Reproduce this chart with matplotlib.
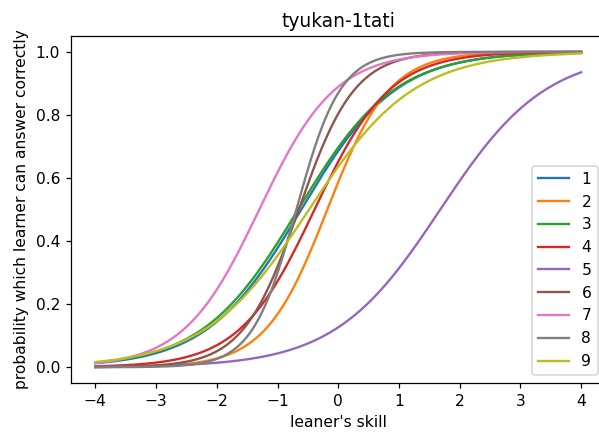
import numpy as np
import matplotlib
matplotlib.use("Agg")
import matplotlib.pyplot as plt

# item parameters (2PL logistic item characteristic curves)
items = ["1", "2", "3", "4", "5", "6", "7", "8", "9"]
discrimination = [1.28, 1.95, 1.26, 1.61, 1.15, 2.17, 1.60, 2.75, 1.16]
difficulty = [-0.61, -0.18, -0.66, -0.39, 1.68, -0.65, -1.30, -0.69, -0.48]
skill_min, skill_max = -4, 4

DPI = 112
W, H = 599, 432
fig = plt.figure(figsize=(W / DPI, H / DPI), dpi=DPI)
left, right, top, bottom = 71, 605.5, 36, 383
ax = fig.add_axes([left / W, 1 - bottom / H, (right - left) / W, (bottom - top) / H])

theta = np.linspace(skill_min, skill_max, 400)
for name, a, b in zip(items, discrimination, difficulty):
    p = 1.0 / (1.0 + np.exp(-a * (theta - b)))
    ax.plot(theta, p, label=name)

ax.set_title("tyukan-1tati")
ax.set_xlabel("leaner's skill")
ax.set_ylabel("probability which learner can answer correctly")
ax.legend(loc="lower right")
fig.savefig("out.png", dpi=DPI)
